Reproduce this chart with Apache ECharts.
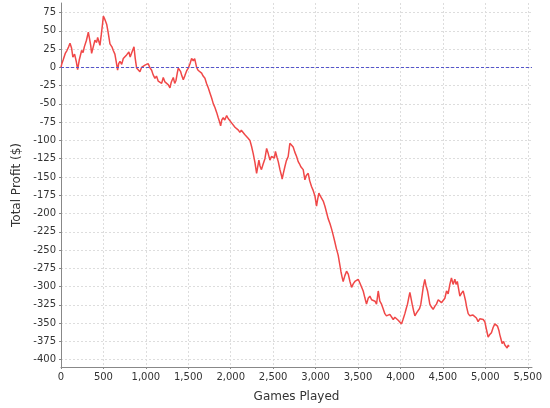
<!DOCTYPE html>
<html><head><meta charset="utf-8">
<script src="https://cdn.jsdelivr.net/npm/echarts@6/dist/echarts.min.js"></script>
<style>html,body{margin:0;padding:0;background:#fff}#c{width:550px;height:408px}</style>
</head><body><div id="c"></div>
<script>
const games = [0,10,25,50,70,90,106,125,140,160,180,196,215,243,260,275,300,322,335,350,361,380,400,420,432,459,475,490,499,515,538,555,577,600,616,635,650,667,680,695,715,734,755,773,800,815,840,860,875,891,910,930,950,970,989,1010,1028,1045,1068,1085,1107,1125,1146,1166,1186,1205,1225,1245,1265,1284,1300,1323,1340,1355,1370,1382,1395,1410,1425,1441,1461,1480,1500,1520,1539,1559,1575,1598,1615,1637,1657,1675,1696,1715,1735,1755,1775,1795,1814,1835,1853,1867,1881,1895,1912,1930,1952,1970,1990,2010,2030,2050,2069,2090,2108,2125,2147,2165,2187,2205,2226,2245,2265,2285,2305,2320,2332,2345,2362,2380,2403,2423,2442,2462,2480,2500,2515,2527,2545,2560,2580,2600,2606,2620,2638,2655,2677,2690,2697,2715,2736,2755,2776,2795,2810,2826,2840,2854,2874,2890,2913,2930,2952,2970,2992,3011,3025,3039,3055,3070,3090,3110,3130,3148,3170,3188,3208,3227,3245,3266,3282,3298,3312,3325,3345,3365,3385,3405,3424,3445,3463,3482,3502,3522,3542,3561,3580,3600,3620,3640,3660,3680,3700,3718,3738,3757,3777,3795,3816,3835,3855,3875,3894,3915,3934,3955,3973,3990,4013,4030,4052,4068,4083,4098,4111,4125,4138,4155,4170,4190,4209,4225,4240,4255,4268,4287,4300,4319,4333,4346,4365,4385,4405,4424,4445,4464,4483,4503,4523,4543,4562,4582,4601,4620,4641,4655,4670,4685,4700,4720,4739,4752,4766,4780,4798,4818,4837,4855,4876,4895,4915,4935,4955,4975,4994,5012,5033,5050,5072,5092,5112,5128,5143,5160,5171,5185,5198,5215,5230,5245,5257,5270,5280];
const profit = [0,5,10,19,23,28,33,26,14,18,8,-3,10,23,20,28,37,48,40,30,19,28,37,34,41,30,45,60,70,66,59,48,32,28,23,18,8,-4,5,8,4,12,10,17,21,14,22,28,12,-1,-3,-6,0,-2,3,1,5,0,-4,-10,-15,-12,-19,-17,-22,-14,-20,-18,-24,-28,-20,-14,-22,-18,-8,-1,-3,-6,-12,-17,-11,-5,-1,5,12,9,12,0,-4,-6,-8,-12,-15,-22,-28,-35,-42,-50,-55,-62,-69,-74,-80,-72,-69,-72,-66,-70,-71,-76,-78,-82,-84,-86,-89,-86,-87,-92,-93,-97,-100,-108,-118,-130,-145,-135,-127,-135,-140,-133,-125,-111,-118,-127,-122,-120,-124,-115,-123,-129,-140,-149,-153,-145,-136,-128,-122,-110,-104,-106,-109,-116,-122,-129,-132,-136,-138,-140,-154,-148,-145,-155,-163,-168,-176,-190,-180,-172,-176,-176,-183,-190,-199,-207,-214,-221,-230,-239,-248,-257,-268,-279,-287,-293,-285,-279,-283,-293,-301,-296,-293,-292,-290,-295,-297,-306,-315,-324,-316,-313,-318,-317,-320,-324,-306,-320,-324,-330,-337,-340,-342,-338,-340,-345,-342,-344,-346,-348,-351,-345,-337,-330,-324,-315,-308,-316,-324,-333,-340,-336,-337,-330,-324,-312,-301,-290,-298,-306,-315,-324,-328,-331,-327,-324,-318,-317,-322,-320,-316,-306,-310,-297,-288,-297,-290,-297,-293,-303,-313,-309,-306,-312,-319,-328,-337,-340,-342,-339,-337,-343,-348,-344,-346,-345,-348,-358,-369,-366,-363,-356,-351,-350,-354,-360,-366,-372,-378,-375,-380,-378,-384,-380,-382];
const xTicks = [0,500,1000,1500,2000,2500,3000,3500,4000,4500,5000,5500];
const yTicks = [-400,-375,-350,-325,-300,-275,-250,-225,-200,-175,-150,-125,-100,-75,-50,-25,0,25,50,75];
const zeroLine = [0];

const chart = echarts.init(document.getElementById('c'), null, {renderer:'canvas'});
const font = 'DejaVu Sans';
chart.setOption({
  animation:false,
  backgroundColor:'#fff',
  grid:{left:61,right:18,top:3,bottom:34},
  xAxis:{type:'value',min:0,max:5550,
    name:'Games Played',nameLocation:'middle',nameGap:24,
    nameTextStyle:{fontFamily:font,fontSize:12,color:'#333'},
    axisLine:{show:true,onZero:false,lineStyle:{color:'#888'}},
    axisTick:{show:true,length:2,customValues:xTicks,lineStyle:{color:'#888'}},
    axisLabel:{fontFamily:font,fontSize:10,color:'#333',margin:5,customValues:xTicks,
      formatter:v=>Number(v).toLocaleString('en-US')},
    splitLine:{show:true,lineStyle:{color:'#dddddd',type:[2,2],width:1}}},
  yAxis:{type:'value',min:-410,max:88,
    name:'Total Profit ($)',nameLocation:'middle',nameGap:35,
    nameTextStyle:{fontFamily:font,fontSize:12,color:'#333'},
    axisLine:{show:true,lineStyle:{color:'#888'}},
    axisTick:{show:true,length:2,customValues:yTicks,lineStyle:{color:'#888'}},
    axisLabel:{fontFamily:font,fontSize:10,color:'#333',margin:5,customValues:yTicks,
      formatter:v=>String(v)},
    splitLine:{show:true,lineStyle:{color:'#dddddd',type:[2,2],width:1}}},
  series:[{type:'line',data:games.map((g,i)=>[g,profit[i]]),showSymbol:false,
    lineStyle:{color:'#f04848',width:1.5},
    markLine:{silent:true,symbol:['none','none'],label:{show:false},
      itemStyle:{color:'#5555cc'},
      lineStyle:{color:'#5555cc',type:[3,2],width:1,opacity:1},
      data:zeroLine.map(v=>({yAxis:v,lineStyle:{color:'#5555cc'}}))}}]
});
</script></body></html>
